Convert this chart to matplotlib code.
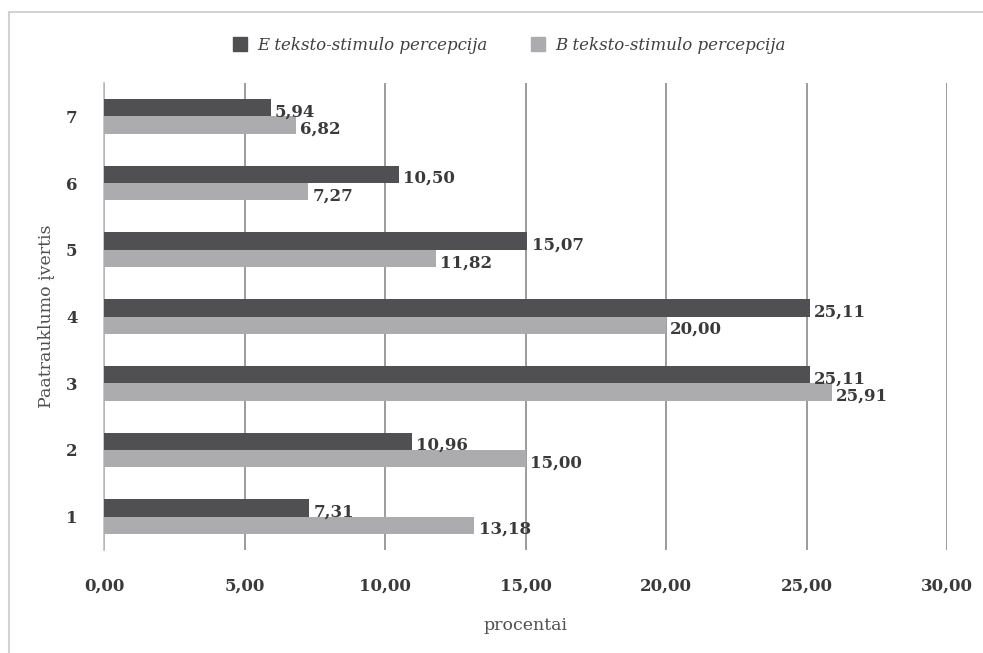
import matplotlib.pyplot as plt
from matplotlib.lines import Line2D
import numpy as np

categories = ["1", "2", "3", "4", "5", "6", "7"]
e_values = [7.31, 10.96, 25.11, 25.11, 15.07, 10.50, 5.94]
b_values = [13.18, 15.00, 25.91, 20.00, 11.82, 7.27, 6.82]
e_label = "E teksto-stimulo percepcija"
b_label = "B teksto-stimulo percepcija"
xticks = [0, 5, 10, 15, 20, 25, 30]

dark = "#505053"
light = "#acacaf"
text_c = "#3a3a3a"

plt.rcParams["font.family"] = ["DejaVu Serif"]

fig = plt.figure(figsize=(9.83, 6.53), dpi=100)
ax = fig.add_axes([0.1058, 0.1577, 0.8576, 0.7152])

y = np.arange(len(categories))
h = 0.26
ax.barh(y + h / 2, e_values, height=h, color=dark, zorder=3)
ax.barh(y - h / 2, b_values, height=h, color=light, zorder=3)

def fmt(v):
    return f"{v:.2f}".replace(".", ",")

for yi, v in zip(y + h / 2, e_values):
    ax.annotate(fmt(v), (v, yi), xytext=(3, -3), textcoords="offset points",
                va="center", ha="left", fontsize=12, fontweight="bold", color=text_c, zorder=4)
for yi, v in zip(y - h / 2, b_values):
    ax.annotate(fmt(v), (v, yi), xytext=(3, -3), textcoords="offset points",
                va="center", ha="left", fontsize=12, fontweight="bold", color=text_c, zorder=4)

ax.set_xlim(0, 30)
ax.set_ylim(-0.5, 6.5)
ax.set_xticks(xticks)
ax.set_xticklabels([fmt(t) for t in xticks], fontsize=12, fontweight="bold", color=text_c)
ax.set_yticks(y)
ax.set_yticklabels(categories, fontsize=12, fontweight="bold", color=text_c)
ax.tick_params(axis="x", length=0, pad=20)
ax.tick_params(axis="y", length=0, pad=19)
ax.grid(axis="x", color="#8a8a8a", linewidth=1.2, zorder=0)
for s in ["top", "right", "bottom"]:
    ax.spines[s].set_visible(False)
ax.spines["left"].set_color("#bdbdbd")
ax.spines["left"].set_linewidth(1.2)

ax.set_xlabel("procentai", fontsize=12.5, color="#505050", labelpad=16)
ax.set_ylabel("Paatrauklumo įvertis", fontsize=12.5, color="#505050", labelpad=8)

handles = [Line2D([], [], marker="s", linestyle="none", markersize=10, color=dark),
           Line2D([], [], marker="s", linestyle="none", markersize=10, color=light)]
fig.legend(handles, [e_label, b_label], loc="center", bbox_to_anchor=(0.513, 0.931),
           ncol=2, frameon=False, handletextpad=0.05, columnspacing=2.0,
           prop={"family": "DejaVu Serif", "style": "italic", "size": 12})
for t in fig.legends[0].get_texts():
    t.set_color("#404040")

# light frame on the top and left edges
fig.add_artist(Line2D([0.009, 0.009], [0.0, 0.982], color="#d2d2d2", linewidth=1.5))
fig.add_artist(Line2D([0.009, 1.0], [0.982, 0.982], color="#d2d2d2", linewidth=1.5))

fig.savefig("out.png", dpi=100)
